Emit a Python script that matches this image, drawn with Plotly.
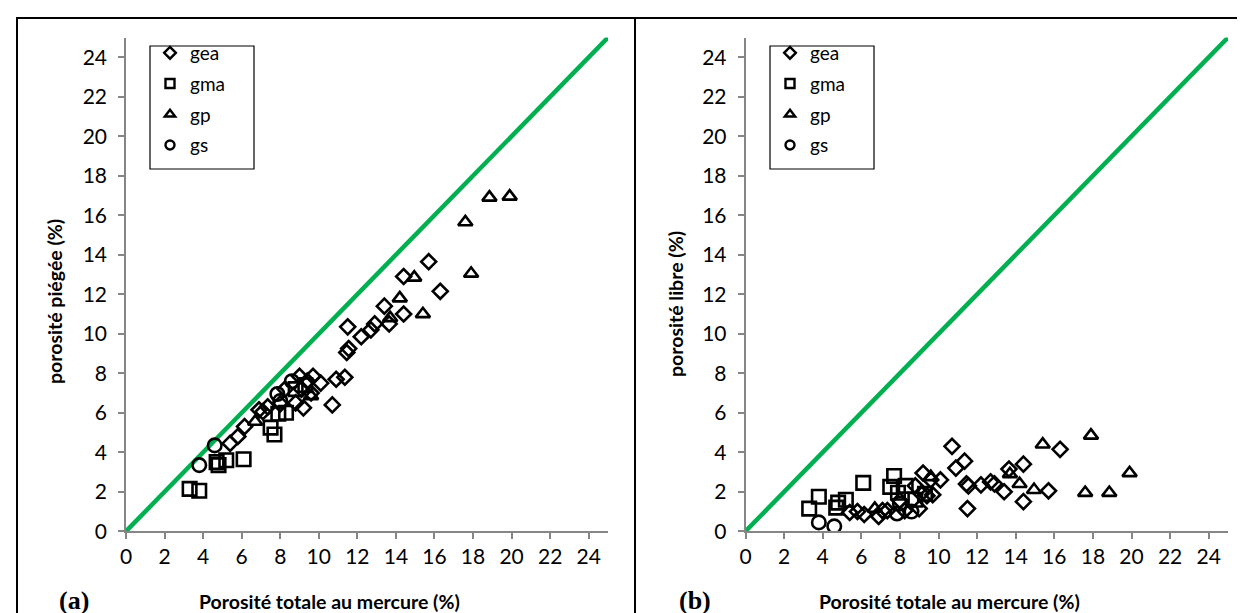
import plotly.graph_objects as go

W, H = 1245, 613

# ---------------- data ----------------
series_names = ["gea", "gma", "gp", "gs"]

gea_total  = [5.4, 5.8, 6.15, 6.9, 7.1, 7.35, 8.0, 8.25, 8.8, 9.0, 9.1, 9.2, 9.4, 9.6, 9.7, 10.1, 10.7, 10.9, 11.35, 11.45, 11.5, 11.55, 12.2, 12.7, 12.9, 13.4, 13.65, 14.4, 14.4, 15.7, 16.3]
gea_piegee = [4.45, 4.8, 5.3, 6.15, 6.05, 6.3, 6.45, 7.2, 6.5, 7.85, 7.2, 6.25, 7.6, 7.0, 7.85, 7.5, 6.4, 7.7, 7.8, 9.05, 10.35, 9.25, 9.85, 10.2, 10.5, 11.4, 10.5, 12.9, 11.0, 13.65, 12.15]
gea_libre  = [0.95, 1.0, 0.85, 0.75, 1.05, 1.05, 1.55, 1.05, 2.3, 1.15, 1.9, 2.95, 1.8, 2.6, 1.85, 2.6, 4.3, 3.2, 3.55, 2.4, 1.15, 2.3, 2.35, 2.5, 2.4, 2.0, 3.15, 1.5, 3.4, 2.05, 4.15]

gma_total  = [3.3, 3.8, 4.7, 4.8, 5.2, 6.1, 7.5, 7.7, 7.9, 8.3, 8.8, 9.3]
gma_piegee = [2.15, 2.05, 3.5, 3.35, 3.6, 3.65, 5.25, 4.9, 5.95, 6.0, 7.2, 7.4]
gma_libre  = [1.15, 1.75, 1.2, 1.45, 1.6, 2.45, 2.25, 2.8, 1.95, 2.3, 1.6, 1.9]

gp_total  = [6.7, 9.6, 13.7, 14.2, 14.95, 15.4, 17.6, 17.9, 18.85, 19.9]
gp_piegee = [5.55, 6.85, 10.8, 11.8, 12.85, 11.0, 15.65, 13.05, 16.9, 16.95]
gp_libre  = [1.15, 2.75, 2.9, 2.4, 2.1, 4.4, 1.95, 4.85, 1.95, 2.95]

gs_total  = [3.8, 4.6, 7.85, 8.0, 8.6]
gs_piegee = [3.35, 4.35, 6.95, 6.6, 7.6]
gs_libre  = [0.45, 0.25, 0.9, 1.4, 1.0]

ref_line = [0, 25]
tick_vals = list(range(0, 25, 2))

# ---------------- styling ----------------
FONT = "Lato"
symbols = {"gea": "diamond-open", "gma": "square-open", "gp": "triangle-up-open", "gs": "circle-open"}
sizes = {"gea": 11.5, "gma": 13.5, "gp": 12.5, "gs": 13.5}
GREEN = "#00B050"
AXC = "#868686"

def px(x):
    return x / W

def py(y):
    return 1 - y / H

fig = go.Figure()

panels = [
    ("x", "y", "legend", {"gea": (gea_total, gea_piegee), "gma": (gma_total, gma_piegee),
                           "gp": (gp_total, gp_piegee), "gs": (gs_total, gs_piegee)}),
    ("x2", "y2", "legend2", {"gea": (gea_total, gea_libre), "gma": (gma_total, gma_libre),
                              "gp": (gp_total, gp_libre), "gs": (gs_total, gs_libre)}),
]

for xa, ya, leg, data in panels:
    fig.add_trace(go.Scatter(x=ref_line, y=ref_line, mode="lines", xaxis=xa, yaxis=ya,
                             line=dict(color=GREEN, width=4.5), showlegend=False, hoverinfo="skip"))
    for name in series_names:
        xs, ys = data[name]
        fig.add_trace(go.Scatter(x=xs, y=ys, mode="markers", xaxis=xa, yaxis=ya, name=name,
                                 marker=dict(symbol=symbols[name], size=sizes[name], color="black",
                                             line=dict(width=2.6, color="black")),
                                 showlegend=False))
    # legend-only entries with smaller symbols
    for i, name in enumerate(series_names):
        fig.add_trace(go.Scatter(x=[None], y=[None], mode="markers", xaxis=xa, yaxis=ya, name=name,
                                 legend=leg, legendgroup=leg + name,
                                 marker=dict(symbol=symbols[name], size=9, color="black",
                                             line=dict(width=2.4, color="black")),
                                 showlegend=True))

ydom = [py(523.3), py(29.5)]
axis_common = dict(range=[0, 25], tickvals=tick_vals, showgrid=False, zeroline=False,
                   showline=True, linecolor=AXC, linewidth=1.5, ticks="outside", ticklen=6,
                   tickcolor=AXC, tickwidth=1.5, tickfont=dict(family=FONT, size=21, color="black"),
                   automargin=False, fixedrange=True)

leg_common = dict(xanchor="left", yanchor="top", bgcolor="rgba(0,0,0,0)", borderwidth=0,
                  font=dict(family=FONT, size=19, color="black"), tracegroupgap=3,
                  traceorder="grouped")

fig.update_layout(
    width=W, height=H, margin=dict(l=0, r=0, t=0, b=0),
    paper_bgcolor="white", plot_bgcolor="white",
    xaxis=dict(domain=[px(118), px(600)], anchor="y", **axis_common),
    yaxis=dict(domain=ydom, anchor="x", ticklabelstandoff=7, **axis_common),
    xaxis2=dict(domain=[px(737.5), px(1220)], anchor="y2", **axis_common),
    yaxis2=dict(domain=ydom, anchor="x2", ticklabelstandoff=7, **axis_common),
    legend=dict(x=px(142), y=py(26), **leg_common),
    legend2=dict(x=px(762), y=py(26), **leg_common),
    showlegend=True,
)

shapes = [
    # panel borders
    dict(type="rect", xref="paper", yref="paper", x0=px(9), x1=px(627), y0=-0.05, y1=py(10),
         line=dict(color="black", width=2)),
    dict(type="rect", xref="paper", yref="paper", x0=px(627), x1=px(1243), y0=-0.05, y1=py(10),
         line=dict(color="black", width=2)),
    # legend boxes
    dict(type="rect", xref="paper", yref="paper", x0=px(142), x1=px(246), y0=py(161), y1=py(38),
         line=dict(color="black", width=1.2)),
    dict(type="rect", xref="paper", yref="paper", x0=px(762), x1=px(866), y0=py(161), y1=py(38),
         line=dict(color="black", width=1.2)),
]
fig.update_layout(shapes=shapes)

title_font = dict(family=FONT, size=19.5, color="black")
annotations = [
    dict(text="<b>porosité piégée (%)</b>", x=px(47), y=py(294), xref="paper", yref="paper",
         textangle=-90, showarrow=False, font=title_font, xanchor="center", yanchor="middle"),
    dict(text="<b>porosité libre (%)</b>", x=px(667), y=py(296), xref="paper", yref="paper",
         textangle=-90, showarrow=False, font=title_font, xanchor="center", yanchor="middle"),
    dict(text="<b>Porosité totale au mercure (%)</b>", x=px(321), y=py(593), xref="paper", yref="paper",
         showarrow=False, font=title_font, xanchor="center", yanchor="middle"),
    dict(text="<b>Porosité totale au mercure (%)</b>", x=px(941), y=py(593), xref="paper", yref="paper",
         showarrow=False, font=title_font, xanchor="center", yanchor="middle"),
    dict(text="<b>(a)</b>", x=px(66), y=py(592), xref="paper", yref="paper", showarrow=False,
         font=dict(family="Liberation Serif", size=26, color="black"), xanchor="center", yanchor="middle"),
    dict(text="<b>(b)</b>", x=px(687), y=py(592), xref="paper", yref="paper", showarrow=False,
         font=dict(family="Liberation Serif", size=26, color="black"), xanchor="center", yanchor="middle"),
]
fig.update_layout(annotations=annotations)

fig.write_html("out.html")
